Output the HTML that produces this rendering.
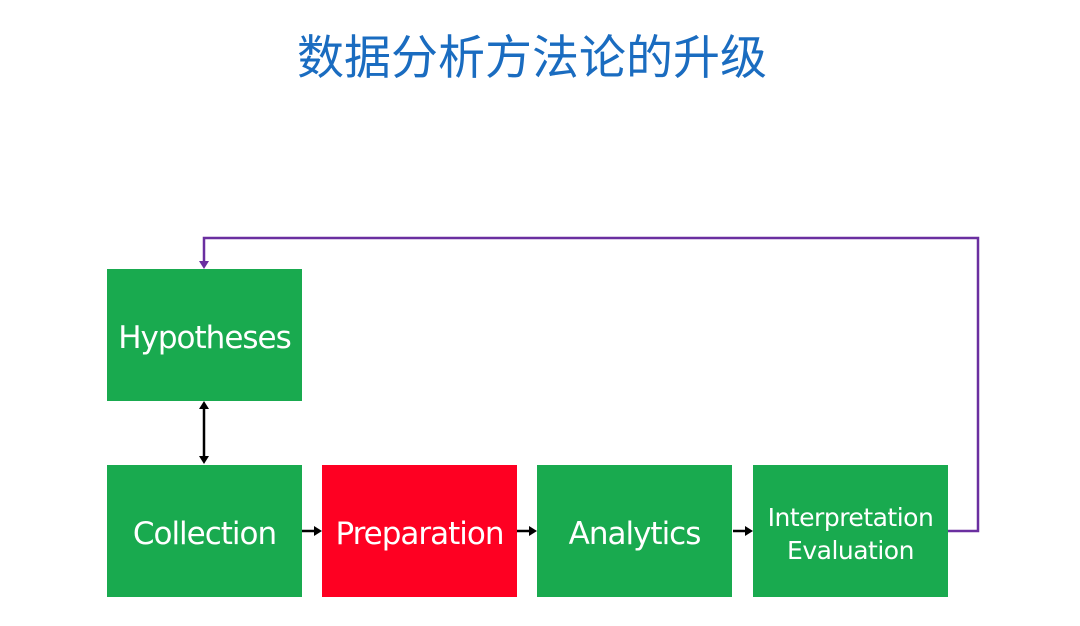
<!DOCTYPE html>
<html><head><meta charset="utf-8"><style>
html,body{margin:0;padding:0;background:#fff;}
body{width:1080px;height:626px;position:relative;overflow:hidden;font-family:"Liberation Sans","Noto Sans CJK SC",sans-serif;}
.t{position:absolute;left:0;width:1064px;top:22px;text-align:center;font-size:47px;color:#1a6cc0;font-family:"Noto Sans CJK SC","WenQuanYi Zen Hei",sans-serif;line-height:64px;}
.b{position:absolute;width:195px;height:132px;box-sizing:border-box;padding-top:6px;background:#19aa4f;color:#fff;display:flex;align-items:center;justify-content:center;text-align:center;font-size:31px;font-family:"DejaVu Sans","Liberation Sans",sans-serif;letter-spacing:-1px;}
.r{background:#fe0022;}
.s{font-size:25px;line-height:33px;letter-spacing:-0.5px;}
svg{position:absolute;left:0;top:0;}
</style></head><body>
<div class="t">数据分析方法论的升级</div>
<div class="b" style="left:107px;top:269px;">Hypotheses</div>
<div class="b" style="left:107px;top:465px;">Collection</div>
<div class="b r" style="left:322px;top:465px;">Preparation</div>
<div class="b" style="left:537px;top:465px;">Analytics</div>
<div class="b s" style="left:753px;top:465px;">Interpretation<br>Evaluation</div>
<svg width="1080" height="626">
<polyline points="948,531 978,531 978,238 204,238 204,262" fill="none" stroke="#6a2fa0" stroke-width="2.5"/>
<polygon points="199,261 209,261 204,269" fill="#6a2fa0"/>
<line x1="204" y1="408" x2="204" y2="457" stroke="#000" stroke-width="2.5"/>
<polygon points="199,409 209,409 204,401" fill="#000"/>
<polygon points="199,456 209,456 204,464" fill="#000"/>
<line x1="302" y1="531" x2="315" y2="531" stroke="#000" stroke-width="2.5"/>
<polygon points="314,526 314,536 322,531" fill="#000"/>
<line x1="517" y1="531" x2="530" y2="531" stroke="#000" stroke-width="2.5"/>
<polygon points="529,526 529,536 537,531" fill="#000"/>
<line x1="733" y1="531" x2="746" y2="531" stroke="#000" stroke-width="2.5"/>
<polygon points="745,526 745,536 753,531" fill="#000"/>
</svg>
</body></html>
